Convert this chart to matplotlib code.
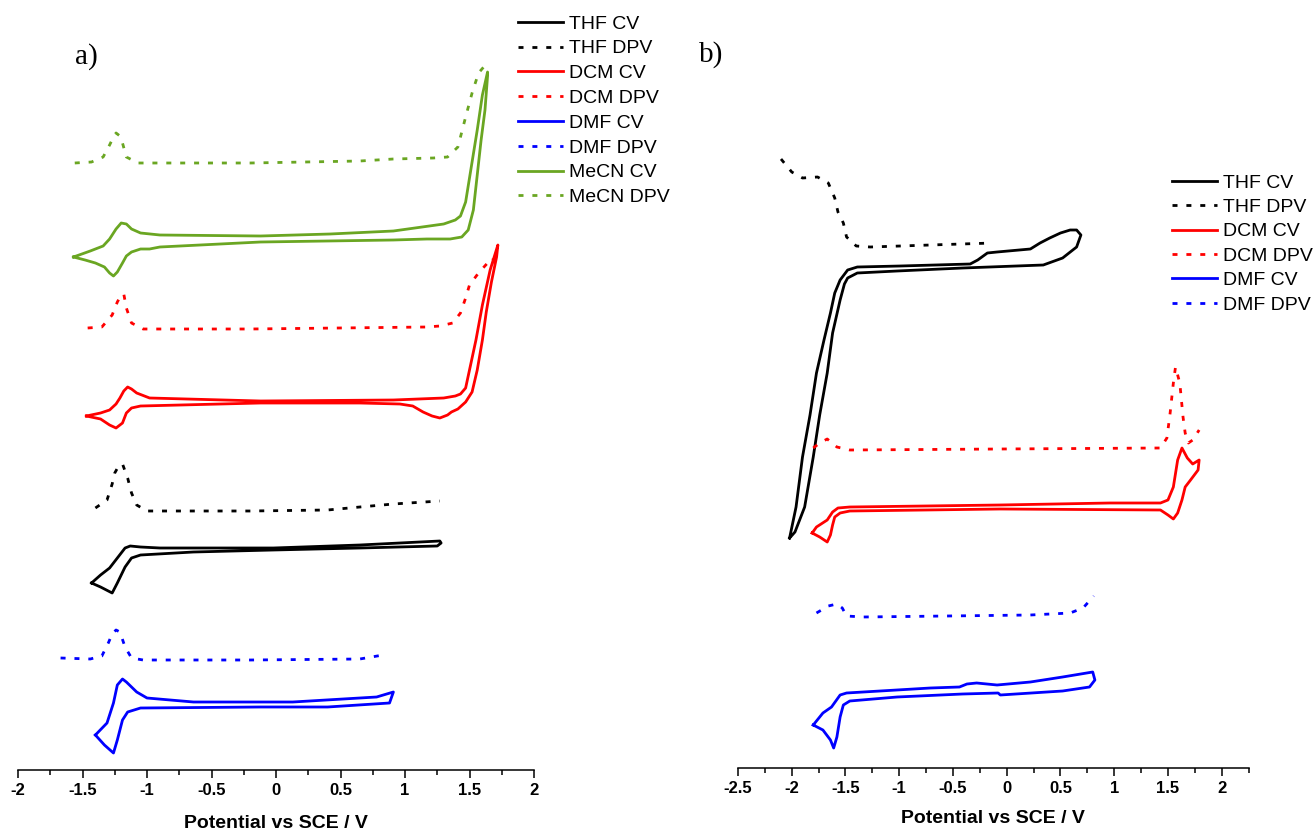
import numpy as np
import matplotlib
matplotlib.use("Agg")
import matplotlib.pyplot as plt

plt.rcParams['font.family'] = ['Liberation Sans', 'DejaVu Sans']
plt.rcParams['axes.unicode_minus'] = False

# ---------------- panel a) : potential (V vs SCE), current (a.u., offset) ----------------
a_thf_cv_x = [-1.43, -1.36, -1.30, -1.27, -1.23, -1.17, -1.12, -1.05, -0.64, -0.02, 0.65, 1.25, 1.28, 1.27,
              0.65, -0.02, -0.90, -1.05, -1.13, -1.17, -1.23, -1.29, -1.36, -1.43]
a_thf_cv_y = [187, 183, 179, 177, 187, 203, 212, 215, 218, 220, 222, 224, 227, 229,
              225, 222, 222, 223, 224, 222, 212, 202, 195, 187]
a_thf_dpv_x = [-1.40, -1.31, -1.27, -1.25, -1.22, -1.19, -1.15, -1.12, -1.08, -1.00, -0.20, 0.40, 0.65, 0.91, 1.27]
a_thf_dpv_y = [262, 270, 286, 297, 304, 306, 292, 277, 265, 259, 259, 260, 263, 266, 269]

a_dcm_cv_x = [-1.47, -1.36, -1.29, -1.24, -1.21, -1.18, -1.15, -1.12, -1.08, -0.98, -0.12, 0.91, 1.30, 1.39,
              1.43, 1.47, 1.50, 1.55, 1.60, 1.66, 1.72,
              1.71, 1.67, 1.63, 1.60, 1.56, 1.52, 1.47, 1.41, 1.36, 1.33, 1.27, 1.21, 1.14, 1.06, 0.96, 0.65,
              -0.12, -1.05, -1.12, -1.16, -1.19, -1.24, -1.29, -1.36, -1.47]
a_dcm_cv_y = [354, 357, 360, 366, 372, 379, 383, 381, 377, 372, 369, 370, 372, 374,
              376, 382, 400, 430, 465, 500, 525,
              513, 488, 458, 430, 400, 378, 368, 361, 358, 355, 352, 354, 358, 364, 366, 367,
              367, 364, 362, 357, 347, 342, 345, 351, 354]
a_dcm_dpv_x = [-1.46, -1.35, -1.27, -1.23, -1.20, -1.18, -1.16, -1.12, -1.03, -0.20, 1.17, 1.27, 1.37, 1.43, 1.47,
               1.50, 1.57, 1.64, 1.68, 1.71]
a_dcm_dpv_y = [442, 443, 455, 468, 475, 476, 462, 447, 441, 441, 443, 444, 447, 457, 472,
               485, 497, 507, 512, 500]

a_dmf_cv_x = [-1.40, -1.33, -1.26, -1.23, -1.19, -1.15, -1.05, -0.12, 0.40, 0.88, 0.91, 0.78, 0.13, -0.64,
              -1.00, -1.08, -1.16, -1.19, -1.23, -1.26, -1.31, -1.40]
a_dmf_cv_y = [35, 25, 17, 30, 50, 58, 62, 63, 63, 67, 78, 73, 68, 68,
              72, 78, 88, 91, 85, 67, 47, 35]
a_dmf_dpv_x = [-1.67, -1.44, -1.35, -1.30, -1.27, -1.24, -1.21, -1.17, -1.12, -1.03, -0.20, 0.65, 0.83]
a_dmf_dpv_y = [112, 111, 114, 127, 136, 140, 138, 123, 112, 110, 110, 111, 115]

a_mecn_cv_x = [-1.57, -1.44, -1.34, -1.29, -1.24, -1.20, -1.16, -1.12, -1.05, -0.90, -0.12, 0.42, 0.91, 1.30,
               1.39, 1.43, 1.47, 1.51, 1.56, 1.60, 1.64,
               1.64, 1.62, 1.59, 1.56, 1.53, 1.49, 1.44, 1.35, 1.17, 0.91, -0.12, -0.90, -0.98, -1.05,
               -1.12, -1.16, -1.19, -1.23, -1.26, -1.29, -1.33, -1.40, -1.48, -1.57]
a_mecn_cv_y = [513, 519, 524, 531, 541, 547, 546, 541, 537, 535, 534, 536, 539, 546,
               550, 554, 568, 600, 640, 675, 698,
               694, 660, 630, 595, 560, 540, 533, 531, 531, 530, 528, 523, 521, 521,
               518, 514, 507, 498, 494, 497, 503, 507, 510, 513]
a_mecn_dpv_x = [-1.56, -1.43, -1.34, -1.29, -1.26, -1.24, -1.21, -1.19, -1.16, -1.07, -0.20, 0.65, 0.91, 1.22,
                1.33, 1.41, 1.47, 1.52, 1.57, 1.61, 1.64]
a_mecn_dpv_y = [607, 608, 613, 625, 633, 637, 634, 627, 613, 607, 607, 609, 611, 612,
                613, 623, 653, 677, 697, 703, 697]

# ---------------- panel b) ----------------
b_thf_cv_x = [-2.02, -1.96, -1.90, -1.83, -1.77, -1.70, -1.64, -1.60, -1.55, -1.48, -1.39, -0.99, -0.34, -0.27,
              -0.18, -0.09, 0.22, 0.31, 0.40, 0.50, 0.59, 0.65, 0.69, 0.65, 0.52, 0.34, -0.41, -1.02,
              -1.39, -1.48, -1.51, -1.55, -1.62, -1.67, -1.74, -1.80, -1.88, -1.97, -2.02]
b_thf_cv_y = [230, 261, 311, 353, 395, 428, 455, 475, 488, 498, 501, 502, 504, 508,
              515, 516, 519, 525, 530, 535, 538, 538, 533, 521, 510, 503, 500, 497,
              495, 490, 484, 468, 435, 395, 353, 311, 261, 236, 230]
b_thf_dpv_x = [-2.10, -2.00, -1.90, -1.76, -1.66, -1.60, -1.57, -1.52, -1.49, -1.40, -1.27, -0.71, -0.13]
b_thf_dpv_y = [609, 596, 590, 591, 585, 570, 556, 545, 531, 522, 521, 523, 525]

b_dcm_cv_x = [-1.81, -1.77, -1.67, -1.62, -1.57, -1.46, -0.06, 0.96, 1.43, 1.50, 1.55, 1.59, 1.63, 1.68,
              1.73, 1.79, 1.78, 1.71, 1.66, 1.63, 1.59, 1.55, 1.50, 1.43, -0.06, -1.46, -1.55, -1.60,
              -1.62, -1.64, -1.67, -1.74, -1.81]
b_dcm_cv_y = [235, 241, 248, 256, 260, 261, 263, 265, 265, 268, 281, 308, 320, 310,
              304, 308, 298, 288, 281, 268, 255, 249, 253, 258, 259, 257, 255, 251,
              243, 233, 226, 231, 235]
b_dcm_dpv_x = [-1.80, -1.74, -1.67, -1.58, -1.46, -0.06, 1.43, 1.49, 1.52, 1.55, 1.57, 1.61, 1.64, 1.66,
               1.69, 1.73, 1.79]
b_dcm_dpv_y = [320, 325, 329, 321, 318, 319, 320, 330, 355, 385, 401, 385, 351, 335,
               325, 328, 338]

b_dmf_cv_x = [-1.80, -1.71, -1.63, -1.55, -1.49, -0.71, -0.44, -0.37, -0.28, -0.09, 0.22, 0.52, 0.80, 0.82,
              0.77, 0.52, -0.06, -0.08, -0.41, -1.02, -1.46, -1.52, -1.55, -1.58, -1.61, -1.64, -1.71, -1.80]
b_dmf_cv_y = [43, 55, 61, 73, 75, 80, 81, 84, 85, 83, 86, 91, 96, 88,
              81, 77, 73, 75, 74, 71, 67, 63, 51, 31, 20, 28, 38, 43]
b_dmf_dpv_x = [-1.77, -1.66, -1.58, -1.53, -1.49, -1.34, 0.22, 0.59, 0.71, 0.81]
b_dmf_dpv_y = [155, 162, 164, 160, 152, 151, 153, 155, 160, 172]

c_black, c_red, c_blue, c_green = 'black', '#ff0000', '#0000ff', '#6aa622'
dots = (0, (1.8, 3.2))

fig = plt.figure(figsize=(13.15, 8.35), dpi=100)
axa = fig.add_axes([18 / 1315, 65 / 835, 516 / 1315, 770 / 835])
axb = fig.add_axes([738 / 1315, 67 / 835, 510.6 / 1315, 768 / 835])

def cv(ax, x, y, c, lab):
    ax.plot(x, y, color=c, lw=2.0, label=lab, solid_joinstyle='round')

def dpv(ax, x, y, c, lab):
    ax.plot(x, y, color=c, lw=2.0, ls=dots, label=lab)

cv(axa, a_thf_cv_x, a_thf_cv_y, c_black, 'THF CV')
dpv(axa, a_thf_dpv_x, a_thf_dpv_y, c_black, 'THF DPV')
cv(axa, a_dcm_cv_x, a_dcm_cv_y, c_red, 'DCM CV')
dpv(axa, a_dcm_dpv_x, a_dcm_dpv_y, c_red, 'DCM DPV')
cv(axa, a_dmf_cv_x, a_dmf_cv_y, c_blue, 'DMF CV')
dpv(axa, a_dmf_dpv_x, a_dmf_dpv_y, c_blue, 'DMF DPV')
cv(axa, a_mecn_cv_x, a_mecn_cv_y, c_green, 'MeCN CV')
dpv(axa, a_mecn_dpv_x, a_mecn_dpv_y, c_green, 'MeCN DPV')

cv(axb, b_thf_cv_x, b_thf_cv_y, c_black, 'THF CV')
dpv(axb, b_thf_dpv_x, b_thf_dpv_y, c_black, 'THF DPV')
cv(axb, b_dcm_cv_x, b_dcm_cv_y, c_red, 'DCM CV')
dpv(axb, b_dcm_dpv_x, b_dcm_dpv_y, c_red, 'DCM DPV')
cv(axb, b_dmf_cv_x, b_dmf_cv_y, c_blue, 'DMF CV')
dpv(axb, b_dmf_dpv_x, b_dmf_dpv_y, c_blue, 'DMF DPV')

axa.set_xlim(-2, 2)
axa.set_ylim(0, 770)
axb.set_xlim(-2.5, 2.25)
axb.set_ylim(0, 768)

for ax in (axa, axb):
    ax.patch.set_visible(False)
    for s in ('left', 'right', 'top'):
        ax.spines[s].set_visible(False)
    ax.spines['bottom'].set_linewidth(1.1)
    ax.set_yticks([])
    ax.xaxis.set_major_locator(matplotlib.ticker.MultipleLocator(0.5))
    ax.xaxis.set_minor_locator(matplotlib.ticker.MultipleLocator(0.25))
    ax.xaxis.set_major_formatter(matplotlib.ticker.FuncFormatter(lambda v, p: '%g' % v))
    ax.tick_params(axis='x', which='major', length=6, width=1.1, pad=3.5, labelsize=12)
    ax.tick_params(axis='x', which='minor', length=3.5, width=1.1)
    for t in ax.get_xticklabels():
        t.set_fontweight('bold')

axa.set_xlabel('Potential vs SCE / V', fontsize=14, fontweight='bold', labelpad=12)
axb.set_xlabel('Potential vs SCE / V', fontsize=14, fontweight='bold', labelpad=10)

axa.legend(loc='upper left', bbox_to_anchor=(518 / 1315, 1 - 15 / 835), bbox_transform=fig.transFigure,
           frameon=False, fontsize=14, handlelength=2.3, handletextpad=0.3, labelspacing=0.37,
           borderpad=0, borderaxespad=0)
axb.legend(loc='upper left', bbox_to_anchor=(1172 / 1315, 1 - 174 / 835), bbox_transform=fig.transFigure,
           frameon=False, fontsize=14, handlelength=2.3, handletextpad=0.3, labelspacing=0.35,
           borderpad=0, borderaxespad=0)

fig.text(75 / 1315, 1 - 57 / 835, 'a)', fontsize=21, family='Liberation Serif', va='center', ha='left')
fig.text(699 / 1315, 1 - 55 / 835, 'b)', fontsize=21, family='Liberation Serif', va='center', ha='left')

fig.savefig('out.png', dpi=100)
